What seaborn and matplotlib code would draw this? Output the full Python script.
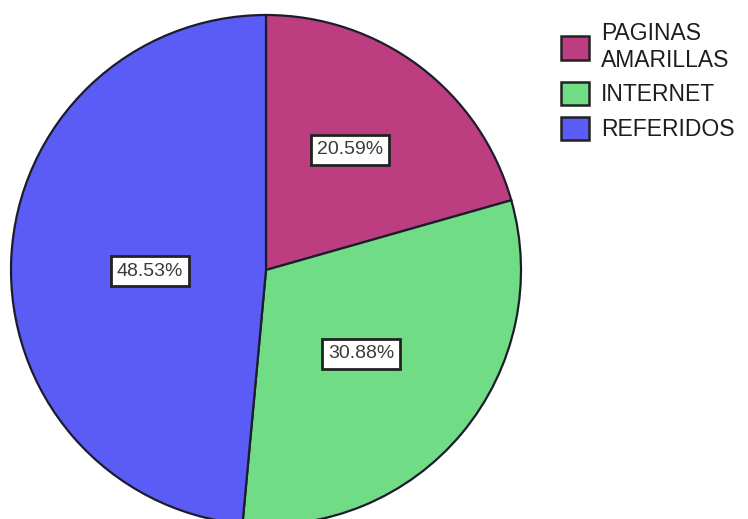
import matplotlib
matplotlib.use("Agg")
import matplotlib.pyplot as plt
from matplotlib.patches import Patch
import seaborn as sns

# Source of new clients
categories = ["PAGINAS\nAMARILLAS", "INTERNET", "REFERIDOS"]
percentages = [20.59, 30.88, 48.53]
colors = ["#BC3E80", "#70DC86", "#5B5BF6"]

sns.set_theme(style="white")
plt.rcParams["font.family"] = ["Liberation Sans", "DejaVu Sans"]

W, H = 748, 519
fig = plt.figure(figsize=(W / 100, H / 100), dpi=100)
ax = fig.add_axes([0, 0, 1, 1])

# pie centre and radius in pixels
cx, cy, r = 266, 270, 255

wedges, _ = ax.pie(
    percentages,
    colors=colors,
    startangle=90,
    counterclock=False,
    radius=1.0,
    wedgeprops=dict(edgecolor="#1c1c2c", linewidth=1.6),
)
ax.set_aspect("auto")
ax.set_xlim(-cx / r, (W - cx) / r)
ax.set_ylim((cy - H) / r, cy / r)
ax.axis("off")

# boxed percentage tags, centre of each tag in pie-radius units
tag_xy = [(0.329, 0.471), (0.373, -0.329), (-0.455, -0.004)]
for (x, y), pct in zip(tag_xy, percentages):
    ax.text(
        x, y, f"{pct:.2f}%",
        ha="center", va="center", fontsize=14, color="#3a3a3a",
        bbox=dict(boxstyle="square,pad=0.32", facecolor="white",
                  edgecolor="#222222", linewidth=2.0),
    )

handles = [Patch(facecolor=c, edgecolor="#222222", linewidth=1.8) for c in colors]
fig.legend(
    handles, categories,
    loc="upper left", bbox_to_anchor=(561 / W, 1 - 22 / H),
    frameon=False, fontsize=16.5, labelcolor="#1e1e1e",
    handlelength=1.2, handleheight=1.2, handletextpad=0.55,
    labelspacing=0.45, borderpad=0.0, borderaxespad=0.0,
)

fig.savefig("out.png", dpi=100)
